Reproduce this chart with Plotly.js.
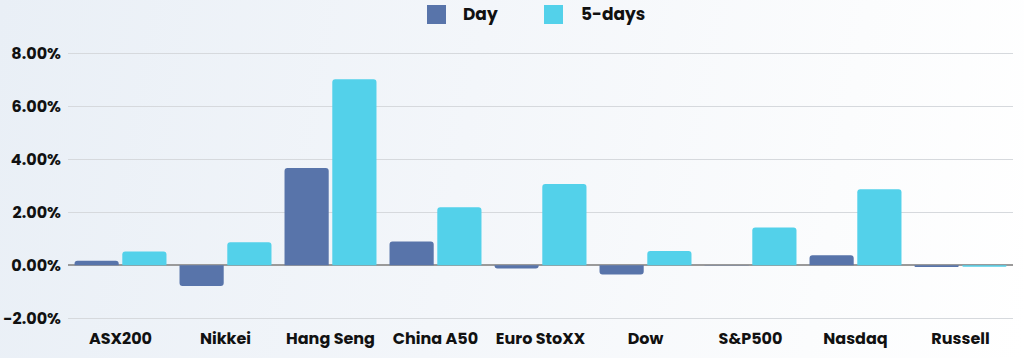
<!DOCTYPE html>
<html>
<head>
<meta charset="utf-8">
<script src="https://cdn.plot.ly/plotly-3.0.1.min.js"></script>
<style>
html,body{margin:0;padding:0;}
body{width:1024px;height:358px;background:linear-gradient(100deg,#e9eff6 0%,#f3f6fa 45%,#fbfcfd 80%,#ffffff 100%);overflow:hidden;}
#chart{width:1024px;height:358px;}
</style>
</head>
<body>
<div id="chart"></div>
<script>
const categories = ["ASX200","Nikkei","Hang Seng","China A50","Euro StoXX","Dow","S&P500","Nasdaq","Russell"];
const seriesNames = ["Day","5-days"];
const seriesColors = ["#5874aa","#53d1ea"];
const dayValues = [0.17, -0.78, 3.67, 0.90, -0.12, -0.35, 0.01, 0.38, -0.06];
const fiveDayValues = [0.52, 0.87, 7.02, 2.19, 3.07, 0.54, 1.43, 2.87, -0.05];
const yTicks = [-2, 0, 2, 4, 6, 8];
const yTickText = yTicks.map(v => v.toFixed(2) + "%");

const font = "Poppins, 'Open Sans', Inter, sans-serif";
const data = [
  {type:"bar", name:seriesNames[0], x:categories, y:dayValues, marker:{color:seriesColors[0]}, hoverinfo:"skip"},
  {type:"bar", name:seriesNames[1], x:categories, y:fiveDayValues, marker:{color:seriesColors[1]}, hoverinfo:"skip"}
];

// plot area in pixels: left 68, width 945, top 40, height 281
const L = 68, W = 945, T = 40, H = 281;
const px = x => (x - L) / W;
const py = y => (T + H - y) / H;
const legendItems = [
  {sq:[427,446], tx:461},
  {sq:[544,563], tx:579}
];
const shapes = legendItems.map((it, i) => ({
  type:"rect", xref:"paper", yref:"paper",
  x0:px(it.sq[0]), x1:px(it.sq[1]), y0:py(24), y1:py(5),
  fillcolor:seriesColors[i], line:{width:0}, layer:"above"
}));
const annotations = legendItems.map((it, i) => ({
  xref:"paper", yref:"paper", x:px(it.tx), y:py(14.5), xanchor:"left", yanchor:"middle",
  text:seriesNames[i], showarrow:false, font:{size:17, family:font, color:"#111", weight:700}
}));

const layout = {
  width:1024, height:358,
  paper_bgcolor:"rgba(0,0,0,0)", plot_bgcolor:"rgba(0,0,0,0)",
  margin:{l:L, r:1024-L-W, t:T, b:358-T-H},
  barmode:"group", bargap:0.09, bargroupgap:0.075, barcornerradius:3,
  font:{family:font, color:"#111", size:16, weight:700},
  showlegend:false,
  shapes:shapes, annotations:annotations,
  xaxis:{type:"category", showgrid:false, zeroline:false, showline:false, ticks:"",
         ticklabelstandoff:6,
         tickfont:{size:16, family:font, color:"#111", weight:700}},
  yaxis:{range:[-2.1, 8.5], tickmode:"array", tickvals:yTicks, ticktext:yTickText,
         showgrid:true, gridcolor:"#d6d9dd", gridwidth:1,
         zeroline:true, zerolinecolor:"#9a9a9a", zerolinewidth:2,
         showline:false, ticks:"", ticklabelstandoff:6,
         tickfont:{size:16, family:font, color:"#111", weight:700}}
};
Plotly.newPlot("chart", data, layout, {staticPlot:true, displayModeBar:false});
</script>
</body>
</html>
